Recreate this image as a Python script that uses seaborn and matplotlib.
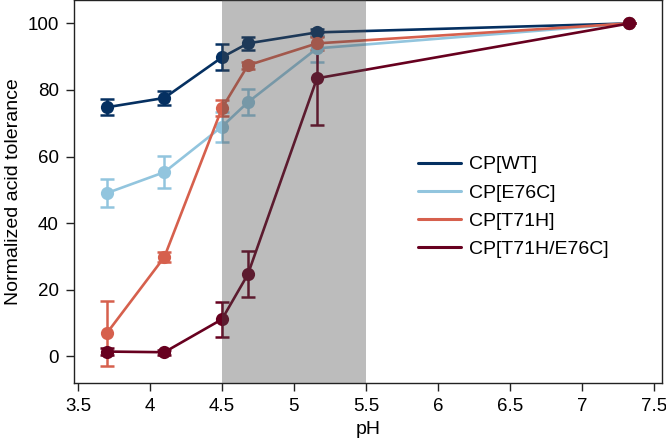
import numpy as np
import pandas as pd
import matplotlib
matplotlib.use("Agg")
import matplotlib.pyplot as plt
from matplotlib.ticker import FuncFormatter, MultipleLocator
import seaborn as sns

# data
ph = [3.7, 4.1, 4.5, 4.68, 5.16, 7.33]
labels = ["CP[WT]", "CP[E76C]", "CP[T71H]", "CP[T71H/E76C]"]
wt = [74.8, 77.6, 89.8, 94.0, 97.3, 100]
wt_err = [2.4, 2.0, 3.9, 2.0, 1.0, 0]
e76c = [49.0, 55.3, 69.0, 76.3, 92.5, 100]
e76c_err = [4.2, 4.8, 4.5, 3.9, 4.0, 0]
t71h = [6.9, 29.8, 74.5, 87.4, 94.0, 100]
t71h_err = [9.7, 1.5, 2.4, 1.0, 2.0, 0]
dbl = [1.4, 1.2, 11.1, 24.6, 83.5, 100]
dbl_err = [1.0, 0.8, 5.2, 6.9, 14.0, 0]
colors = ["#053061", "#92c5de", "#d6604d", "#67001f"]

rows = []
for name, vals, errs in zip(labels, [wt, e76c, t71h, dbl],
                            [wt_err, e76c_err, t71h_err, dbl_err]):
    for x, v, e in zip(ph, vals, errs):
        rows.append({"pH": x, "value": v, "err": e, "strain": name})
df = pd.DataFrame(rows)

sns.set_style("ticks")
plt.rcParams["font.family"] = ["Liberation Sans", "DejaVu Sans"]

fig = plt.figure(figsize=(6.66, 4.44), dpi=100)
ax = fig.add_axes([0.111, 0.137, 0.883, 0.862])

for name, c in zip(labels, colors):
    sub = df[df["strain"] == name]
    ax.errorbar(sub["pH"], sub["value"], yerr=sub["err"], fmt="none",
                ecolor=c, elinewidth=1.8, capsize=5, capthick=1.8, zorder=2)
sns.lineplot(data=df, x="pH", y="value", hue="strain", palette=colors,
             marker="o", markersize=9.5, markeredgewidth=0, linewidth=1.9,
             ax=ax, zorder=3)

# shaded pH window drawn over the data
ax.axvspan(4.5, 5.5, color="#4b4b4b", alpha=0.37, lw=0, zorder=4)

ax.set_xlim(3.472, 7.556)
ax.set_ylim(-8.1, 106.9)
ax.xaxis.set_major_locator(MultipleLocator(0.5))
ax.yaxis.set_major_locator(MultipleLocator(20))
ax.xaxis.set_major_formatter(FuncFormatter(lambda v, p: "%g" % v))
ax.tick_params(direction="out", length=6, width=1, pad=5, labelsize=13.5,
               color="#222222", labelcolor="black")
ax.set_xlabel("pH", fontsize=14, color="black")
ax.set_ylabel("Normalized acid tolerance", fontsize=14, color="black")
for s in ax.spines.values():
    s.set_linewidth(1)
    s.set_color("#222222")

handles = [plt.Line2D([], [], color=c, lw=2.2) for c in colors]
ax.legend(handles, labels, loc="upper left", bbox_to_anchor=(0.555, 0.64),
          frameon=False, fontsize=14, handlelength=2.2, handletextpad=0.45,
          labelspacing=0.55, labelcolor="black")

fig.savefig("out.png", dpi=100)
